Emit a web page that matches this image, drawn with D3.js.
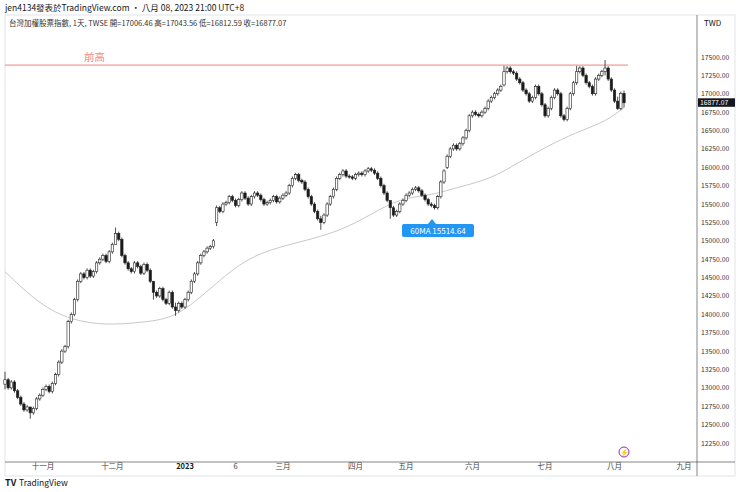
<!DOCTYPE html>
<html><head><meta charset="utf-8">
<script src="https://cdn.jsdelivr.net/npm/d3@7"></script>
<style>body{margin:0;background:#fff;font-family:"Noto Sans CJK TC","Noto Sans",sans-serif}</style>
</head><body><svg id="c" width="740" height="492"></svg>
<script>
const closes=[13110,13000,13080,12960,12870,12780,12700,12740,12660,12720,
12850,12900,12980,13020,12950,13060,13180,13350,13500,13560,
13900,14000,14200,14450,14550,14500,14600,14520,14580,14700,
14750,14800,14720,14850,14950,15100,15020,14800,14700,14620,
14580,14700,14650,14560,14680,14600,14450,14300,14250,14350,
14200,14150,14300,14100,14050,14150,14100,14200,14300,14450,
14550,14700,14800,14850,14900,14920,15000,15450,15400,15500,
15520,15600,15550,15480,15560,15650,15580,15500,15600,15650,
15620,15560,15500,15520,15550,15600,15530,15580,15620,15650,
15750,15850,15900,15820,15800,15700,15600,15500,15400,15300,
15250,15350,15500,15600,15700,15850,15900,15950,15880,15870,
15850,15900,15920,15900,15950,15980,15960,15920,15850,15750,
15650,15550,15450,15350,15400,15500,15550,15620,15650,15700,
15720,15680,15620,15560,15500,15480,15450,15600,15800,15950,
16150,16250,16300,16250,16320,16400,16500,16700,16750,16720,
16700,16750,16800,16900,16950,17000,17050,17100,17300,17350,
17300,17280,17200,17150,17050,17000,16900,16950,17100,17000,
16850,16700,16800,16950,17050,17000,16700,16650,16800,17000,
17150,17300,17350,17250,17150,17100,17000,17200,17250,17300,
17350,17200,17050,16900,16800,17006,16877];
const openOverrides={0:13050,67:15250,140:16000,158:17120,196:17006};
const spikes={0:[13220,12980],8:[12740,12580],35:[15180,15000],47:[14420,14200],54:[14160,13980],67:[15480,15200],100:[15340,15150],122:[15500,15300],158:[17380,17100],181:[17380,17120],190:[17460,17250],194:[16960,16780],196:[17044,16813]};
const maPts=[[0,14580],[11,14130],[21,13920],[32,13850],[43,13890],[53,13940],[62,14230],[72,14620],[81,14850],[94,14990],[106,15130],[116,15360],[125,15580],[135,15620],[141,15700],[151,15810],[157,15920],[164,16100],[174,16340],[183,16510],[190,16620],[196,16810]];
const yTicks=d3.range(12250,17501,250);
const xLabels=[["十一月",12],["十二月",34],["2023",57],["6",73],["三月",88],["四月",111],["五月",127],["六月",148],["七月",171],["八月",193],["九月",215]];
const lastClose=16877.07, prevHigh=17390, maValue="60MA 15514.64";

const svg=d3.select("#c");
const L=5,R=697,T=15,B=462;
const x=d3.scaleLinear().domain([0,196]).range([5,624]);
const y=d3.scaleLinear().domain([12250,17500]).range([443,57]);
svg.append("rect").attr("x",L).attr("y",T).attr("width",735-L).attr("height",B-T+14).attr("fill","none").attr("stroke","#e0e3eb");
svg.append("line").attr("x1",R).attr("x2",R).attr("y1",T).attr("y2",B+14).attr("stroke","#333").attr("stroke-width",0.6);
svg.append("line").attr("x1",L).attr("x2",735).attr("y1",B).attr("y2",B).attr("stroke","#333").attr("stroke-width",0.6);
svg.append("text").attr("x",5).attr("y",11).attr("font-size",8.5).attr("fill","#131722").text("jen4134發表於TradingView.com • 八月 08, 2023 21:00 UTC+8");
svg.append("text").attr("x",9).attr("y",26).attr("font-size",7.5).attr("fill","#333").text("台灣加權股票指數, 1天, TWSE  開=17006.46  高=17043.56  低=16812.59  收=16877.07");
svg.append("text").attr("x",704).attr("y",26).attr("font-size",8).attr("fill","#131722").text("TWD");
const ya=svg.append("g");
yTicks.forEach(t=>ya.append("text").attr("x",701).attr("y",y(t)+2.5).attr("font-size",6.8).attr("fill","#333").text(t.toFixed(2)));
xLabels.forEach(([s,i])=>svg.append("text").attr("x",x(i)).attr("y",469).attr("text-anchor","middle").attr("font-size",7.5).attr("fill",s=="2023"?"#131722":"#444").attr("font-weight",s=="2023"?"bold":"normal").text(s));
svg.append("path").datum(maPts).attr("d",d3.line().x(d=>x(d[0])).y(d=>y(d[1])).curve(d3.curveBasis)).attr("fill","none").attr("stroke","#c8c8c8").attr("stroke-width",1);
svg.append("line").attr("x1",L).attr("x2",628).attr("y1",y(prevHigh)).attr("y2",y(prevHigh)).attr("stroke","#f08080").attr("stroke-width",1);
svg.append("text").attr("x",84).attr("y",61).attr("font-size",10.5).attr("fill","#f28b82").text("前高");
const g=svg.append("g");
closes.forEach((c,i)=>{
 const o=openOverrides[i]!==undefined?openOverrides[i]:(i?closes[i-1]:c);
 const sp=spikes[i];
 const h=sp?sp[0]:Math.max(o,c)+25, l=sp?sp[1]:Math.min(o,c)-25;
 const cx=x(i), up=c>=o;
 g.append("line").attr("x1",cx).attr("x2",cx).attr("y1",y(h)).attr("y2",y(l)).attr("stroke","#222").attr("stroke-width",0.8);
 const top=y(Math.max(o,c)), ht=Math.max(1,y(Math.min(o,c))-top);
 g.append("rect").attr("x",cx-1.2).attr("y",top).attr("width",2.4).attr("height",ht).attr("fill",up?"#fff":"#1a1a1a").attr("stroke","#222").attr("stroke-width",0.6);
});
const mx=432,my=224;
svg.append("path").attr("d",`M${mx-4},${my} L${mx},${my-5} L${mx+4},${my} Z`).attr("fill","#2196f3");
svg.append("rect").attr("x",402).attr("y",my).attr("width",72).attr("height",13).attr("rx",2).attr("fill","#2196f3");
svg.append("text").attr("x",438).attr("y",my+9.5).attr("text-anchor","middle").attr("font-size",8).attr("fill","#fff").text(maValue);
const ly=y(lastClose);
svg.append("rect").attr("x",698).attr("y",ly-4.5).attr("width",37).attr("height",8.5).attr("fill","#131722");
svg.append("text").attr("x",700).attr("y",ly+2.3).attr("font-size",6.8).attr("fill","#fff").text(lastClose.toFixed(2));
svg.append("circle").attr("cx",624).attr("cy",452).attr("r",5).attr("fill","none").attr("stroke","#9c27b0").attr("stroke-width",1);
svg.append("text").attr("x",624).attr("y",455).attr("text-anchor","middle").attr("font-size",7).attr("fill","#9c27b0").text("⚡");
svg.append("text").attr("x",5).attr("y",486).attr("font-size",9).attr("font-weight","bold").attr("fill","#131722").text("TV");
svg.append("text").attr("x",19).attr("y",486).attr("font-size",8.5).attr("fill","#131722").text("TradingView");
</script></body></html>
